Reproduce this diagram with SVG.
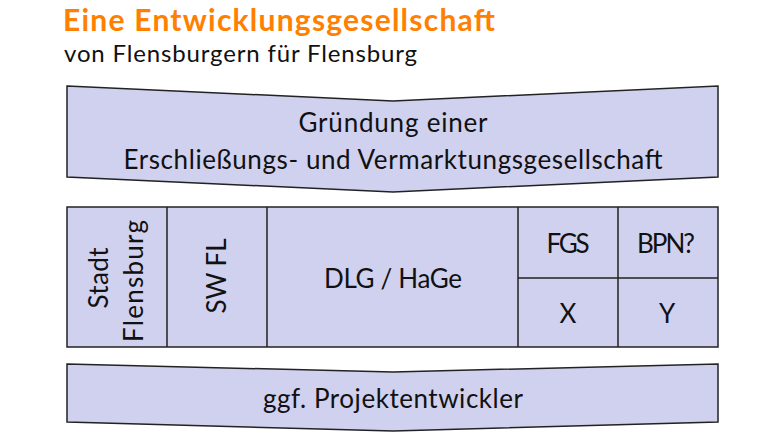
<svg xmlns="http://www.w3.org/2000/svg" width="780" height="439" viewBox="0 0 780 439">
<style>
.shape{fill:#d0d0ef;stroke:#222;stroke-width:1.5;stroke-linejoin:miter}
.line{stroke:#222;stroke-width:1.5;fill:none}
.t{font-family:Lato,"Open Sans","Liberation Sans",sans-serif;font-size:26px;fill:#111;text-anchor:middle}
</style>
<rect width="780" height="439" fill="#fff"/>
<g id="title">
<text x="63" y="31" font-family="Lato,'Open Sans','Liberation Sans',sans-serif" font-weight="bold" font-size="30" fill="#ff8000" textLength="432">Eine Entwicklungsgesellschaft</text>
<text x="64" y="62" font-family="Lato,'Open Sans','Liberation Sans',sans-serif" font-size="24" fill="#111" textLength="353">von Flensburgern für Flensburg</text>
</g>
<g id="gruendung">
<path class="shape" d="M67,86 L393,101 L718,86 L718,177 L393,192 L67,177 Z"/>
<text class="t" x="393" y="132" textLength="189">Gründung einer</text>
<text class="t" x="393" y="169" textLength="539">Erschließungs- und Vermarktungsgesellschaft</text>
</g>
<g id="gesellschafter">
<rect class="shape" x="67" y="207" width="651" height="140"/>
<g id="stadt">
<text class="t" transform="translate(108,278) rotate(-90)" textLength="61">Stadt</text>
<text class="t" transform="translate(143,281) rotate(-90)" textLength="122">Flensburg</text>
</g>
<g id="swfl">
<text class="t" transform="translate(226,276) rotate(-90)" textLength="75">SW FL</text>
</g>
<g id="dlg">
<text class="t" x="393" y="288" textLength="138">DLG / HaGe</text>
</g>
<g id="fgs"><text class="t" x="568" y="253" textLength="43">FGS</text></g>
<g id="bpn"><text class="t" x="666" y="253" textLength="58">BPN?</text></g>
<g id="x"><text class="t" x="568" y="323">X</text></g>
<g id="y"><text class="t" x="667" y="323">Y</text></g>
</g>
<g id="connectors">
<path class="line" d="M167,207 V347 M267,207 V347 M518,207 V347 M618,207 V347 M518,278 H718"/>
</g>
<g id="projektentwickler">
<path class="shape" d="M67,364 L393,372 L718,364 L718,422 L393,431 L67,422 Z"/>
<text class="t" x="393" y="408" textLength="260">ggf. Projektentwickler</text>
</g>
</svg>
